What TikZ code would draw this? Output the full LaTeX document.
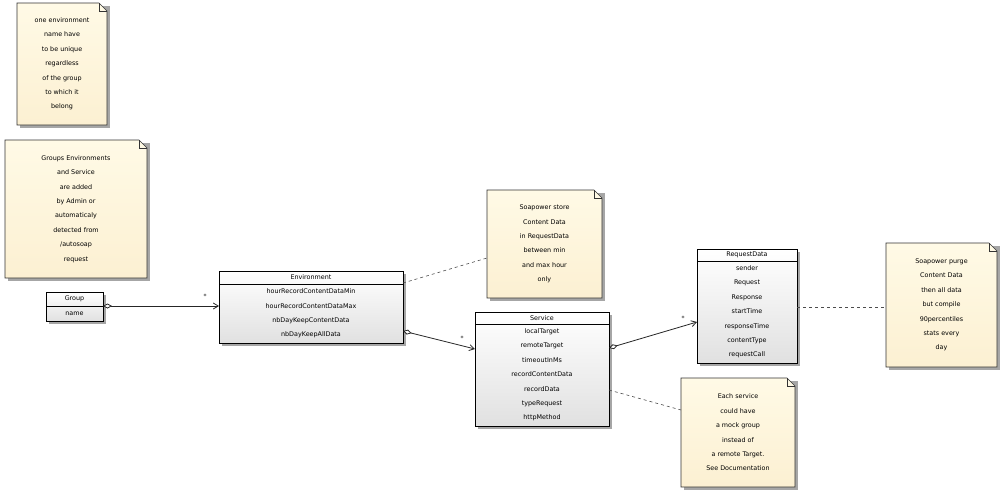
\documentclass[tikz,border=0pt]{standalone}
\usepackage{fontspec}
\setmainfont{DejaVu Sans}
\usetikzlibrary{arrows.meta,calc}
\definecolor{notebg}{HTML}{FFFAE6}
\definecolor{notebg2}{HTML}{FCF0D2}
\tikzset{
 txt/.style={font=\fontsize{6.4}{14.4}\selectfont,align=center,inner sep=0},
 conn/.style={draw=black!85,line width=0.8pt},
 agg/.style={conn,{Diamond[open,fill=white,length=9pt,width=5pt]}-{Straight Barb[length=5pt,width=6pt]}},
 dashln/.style={draw=black!70,dashed,line width=0.6pt},
 mult/.style={font=\fontsize{6}{6}\selectfont,inner sep=0},
}
\newcommand{\mynote}[6]{%
 \fill[black!35] (#2+3,#3+3) rectangle (#4+3,#5+3);
 \path[draw=black!80,line width=0.6pt,top color=notebg,bottom color=notebg2] (#2,#3) -- (#4-8,#3) -- (#4,#3+8) -- (#4,#5) -- (#2,#5) -- cycle;
 \draw[black!80,line width=0.6pt] (#4-8,#3) -- (#4-8,#3+8) -- (#4,#3+8);
 \node[txt] (#1) at ({(#2+#4)/2},{(#3+#5)/2}) {#6};}
\newcommand{\myclass}[7]{% name x1 y1 x2 y2 headerbottom title+rows
 \fill[black!35] (#2+3,#3+3) rectangle (#4+3,#5+3);
 \path[draw=black,line width=0.6pt,top color=white,bottom color=black!12] (#2,#3) rectangle (#4,#5);
 \draw[black,line width=0.6pt] (#2,#6) -- (#4,#6);
 \coordinate (#1-nw) at (#2,#3); \coordinate (#1-se) at (#4,#5);
 #7}
\begin{document}
\begin{tikzpicture}[x=1pt,y=-1pt]
\useasboundingbox[fill=white] (0,0) rectangle (1003,491);
\mynote{n1}{17}{3}{107}{125}{one environment\\name have\\to be unique\\regardless\\of the group\\to which it\\belong}
\mynote{n2}{5}{140}{147}{278}{Groups Environments\\and Service\\are added\\by Admin or\\automaticaly\\detected from\\/autosoap\\request}
\mynote{n3}{487}{190}{602}{298}{Soapower store\\Content Data\\in RequestData\\between min\\and max hour\\only}
\mynote{n4}{681}{378}{795}{487}{Each service\\could have\\a mock group\\instead of\\a remote Target.\\See Documentation}
\mynote{n5}{886}{243}{997}{367}{Soapower purge\\Content Data\\then all data\\but compile\\90percentiles\\stats every\\day}
\myclass{grp}{46}{292}{103}{321}{306}{%
 \node[txt] (grpT) at (74.5,299) {Group};
 \node[txt] (grpR) at (74.5,313.5) {name};}
\myclass{env}{219}{271}{403}{343}{284}{%
 \node[txt] (envT) at (311,277.5) {Environment};
 \node[txt] (envR) at (311,313.5) {hourRecordContentDataMin\\hourRecordContentDataMax\\nbDayKeepContentData\\nbDayKeepAllData};}
\myclass{srv}{475}{312}{609}{426}{324}{%
 \node[txt] (srvT) at (542,318) {Service};
 \node[txt] (srvR) at (542,375) {localTarget\\remoteTarget\\timeoutInMs\\recordContentData\\recordData\\typeRequest\\httpMethod};}
\myclass{rqd}{697}{249}{797}{363}{261}{%
 \node[txt] (rqdT) at (747,255) {RequestData};
 \node[txt] (rqdR) at (747,312) {sender\\Request\\Response\\startTime\\responseTime\\contentType\\requestCall};}
\coordinate (a1) at (103,306); \coordinate (b1) at (219,306);
\coordinate (a2) at (403,331); \coordinate (b2) at (475,349);
\coordinate (a3) at (609,348); \coordinate (b3) at (697,322);
\draw[agg] (a1) -- (b1);
\draw[agg] (a2) -- (b2);
\draw[agg] (a3) -- (b3);
\node[mult] (m1) at (205,296) {*};
\node[mult] (m2) at (462,338) {*};
\node[mult] (m3) at (683,318) {*};
\coordinate (d1) at (403,283); \coordinate (e1) at (487,258);
\coordinate (d2) at (609,390); \coordinate (e2) at (681,410);
\coordinate (d3) at (797,307); \coordinate (e3) at (886,307);
\draw[dashln] (d1) -- (e1);
\draw[dashln] (d2) -- (e2);
\draw[dashln] (d3) -- (e3);
\end{tikzpicture}
\end{document}
